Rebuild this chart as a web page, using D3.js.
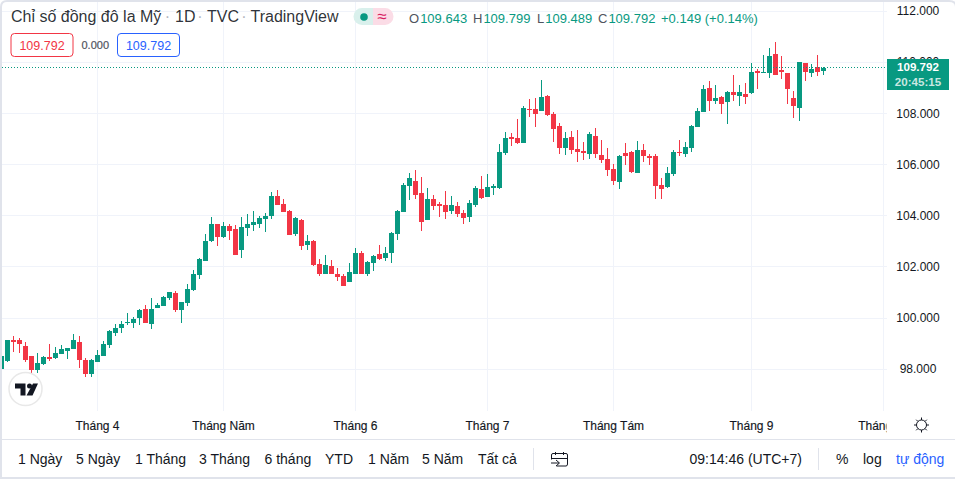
<!DOCTYPE html>
<html><head><meta charset="utf-8">
<script src="https://cdnjs.cloudflare.com/ajax/libs/d3/7.8.5/d3.min.js"></script>
<style>
html,body{margin:0;padding:0;background:#fff;overflow:hidden}
svg{display:block}
text{font-family:"Liberation Sans",Arial,sans-serif}
</style></head><body>
<svg id="c" width="955" height="479"></svg>
<script>
const opens=[98.01,98.33,99.15,99.15,98.91,98.52,97.97,98.21,98.48,98.44,98.60,98.72,98.79,99.07,98.37,97.82,98.29,98.52,98.95,99.42,99.61,99.81,99.81,100.01,100.36,99.77,100.40,100.47,100.79,100.98,100.32,100.59,
101.10,101.69,102.23,103.02,103.68,103.17,103.60,103.48,102.66,103.52,103.64,103.68,103.87,104.00,104.77,104.46,104.19,103.29,103.84,102.86,103.02,102.12,101.73,102.04,101.73,101.65,101.41,101.73,102.55,101.73,102.16,102.51,102.35,102.55,
103.29,104.15,105.17,105.36,104.89,103.84,104.66,104.46,104.42,104.19,104.38,104.11,103.95,104.42,105.05,104.74,105.09,105.09,106.46,107.08,107.04,106.85,108.18,108.18,108.10,108.68,107.98,107.51,106.65,107.08,106.61,106.53,106.42,107.12,106.38,106.22,105.83,105.32,
106.46,106.49,105.67,106.57,106.34,106.34,105.20,105.13,105.63,106.49,106.42,106.65,107.47,108.06,108.99,108.49,108.64,108.45,108.84,108.68,108.76,108.80,109.66,109.58,109.58,110.33,109.70,109.58,108.60,108.21,109.97,109.58,109.82,109.643];
const highs=[98.55,99.15,99.30,99.22,99.07,98.52,98.64,98.52,98.99,98.87,98.95,98.83,99.38,99.30,98.44,98.40,98.75,99.11,99.54,99.77,99.89,100.20,100.04,100.36,100.51,100.79,100.59,100.87,101.02,101.06,100.63,101.33,
101.88,102.35,103.29,103.95,103.68,103.76,103.68,103.64,103.95,104.07,104.19,104.00,104.11,104.93,105.01,104.66,104.23,103.95,103.87,103.25,103.06,102.31,102.47,102.27,101.96,101.73,102.16,102.74,102.62,102.23,102.47,102.86,102.78,103.37,
104.23,105.28,105.67,105.79,105.52,105.09,104.81,104.54,104.97,104.77,104.54,104.23,104.62,105.17,105.56,105.63,105.24,106.81,107.28,107.24,107.78,108.29,108.57,108.61,109.31,108.72,108.06,107.63,107.28,107.32,107.35,106.89,107.28,107.43,106.96,106.65,106.03,106.38,
106.85,106.53,106.92,106.81,106.42,106.42,105.48,105.91,106.57,106.96,106.89,107.55,108.21,109.11,109.27,109.11,108.68,108.88,109.50,109.11,109.19,109.97,109.74,110.29,110.56,110.79,110.25,109.58,108.88,110.01,109.97,109.93,110.29,109.799];
const lows=[97.99,98.29,98.68,98.64,98.29,97.82,97.86,98.17,98.33,98.40,98.60,98.40,98.79,98.05,97.70,97.70,98.29,98.52,98.83,99.30,99.42,99.73,99.61,99.73,99.81,99.58,100.40,100.47,100.71,100.24,99.81,100.47,
101.06,101.53,102.23,102.98,102.82,103.13,103.06,102.47,102.35,103.21,103.41,103.52,103.37,103.87,104.42,104.15,103.25,103.21,102.66,102.66,102.04,101.65,101.73,101.73,101.45,101.26,101.41,101.73,101.73,101.65,101.84,102.27,102.23,102.16,
103.05,104.15,104.62,104.66,103.41,103.84,104.23,103.95,103.88,104.07,103.95,103.68,103.76,104.34,104.66,104.74,104.81,105.05,106.38,106.73,106.81,106.85,107.86,107.47,108.10,107.90,106.89,106.42,106.38,106.42,106.10,106.18,106.22,106.26,106.06,105.56,105.20,105.05,
105.99,105.67,105.67,106.10,105.99,104.66,104.66,105.09,105.56,106.34,106.30,106.49,107.47,108.06,108.10,108.37,107.98,107.59,108.49,108.29,108.37,108.76,108.96,109.58,109.39,109.50,109.35,108.37,107.82,107.71,109.27,109.43,109.46,109.489];
const closes=[98.52,99.15,99.07,98.99,98.37,97.97,98.25,98.48,98.40,98.64,98.79,98.83,99.15,98.37,97.82,98.37,98.56,98.99,99.50,99.61,99.77,99.85,99.97,100.32,99.81,100.36,100.51,100.83,101.02,100.32,100.63,101.14,
101.73,102.31,103.02,103.68,103.17,103.60,103.41,102.47,103.56,103.68,103.76,103.91,104.00,104.77,104.42,104.15,103.25,103.91,102.82,103.02,102.08,101.73,102.08,101.73,101.61,101.26,101.80,102.55,101.73,102.19,102.43,102.31,102.55,103.33,
104.19,105.20,105.48,104.81,103.76,104.66,104.38,104.38,104.15,104.42,104.07,103.91,104.50,105.09,104.70,105.13,105.17,106.49,107.04,107.00,106.85,108.21,108.14,107.98,108.64,107.94,107.39,106.65,107.04,106.57,106.49,106.46,107.20,106.42,106.18,105.79,105.36,106.34,
106.34,105.71,106.57,106.34,106.26,105.16,105.05,105.67,106.49,106.45,106.69,107.51,108.10,108.96,108.49,108.60,108.37,108.84,108.72,108.84,108.64,109.62,109.58,109.62,110.25,109.50,109.62,108.96,108.29,110.01,109.62,109.74,109.62,109.792];
const yTicks=[98,100,102,104,106,108,110,112];
const monthIndex=[16,37,59,81,102,125,147];
const monthLabels=["Tháng 4","Tháng Năm","Tháng 6","Tháng 7","Tháng Tám","Tháng 9","Tháng 10"];
const rangeButtons=["1 Ngày","5 Ngày","1 Tháng","3 Tháng","6 tháng","YTD","1 Năm","5 Năm","Tất cả"];
const lastPrice=109.792;

const UP="#089981",DOWN="#F23645",GRID="#F0F3FA",TXT="#131722",FRAME="#E0E3EB";
const svg=d3.select("#c");
const x=d3.scaleLinear().domain([0,137]).range([1.5,823.5]);
const y=d3.scaleLinear().domain([98,112]).range([369.3,11.1]);
const W=955,H=479,plotR=887,plotB=411,axisB=439;

svg.append("rect").attr("width",W).attr("height",H).attr("fill","#fff");
const defs=svg.append("defs");
defs.append("clipPath").attr("id","plot").append("rect").attr("x",2).attr("y",1).attr("width",plotR-2).attr("height",plotB-1);

// grid
const grid=svg.append("g").attr("clip-path","url(#plot)").attr("shape-rendering","crispEdges").attr("stroke",GRID);
grid.selectAll(".h").data(yTicks).join("line").attr("x1",2).attr("x2",plotR)
  .attr("y1",d=>Math.floor(y(d))+.5).attr("y2",d=>Math.floor(y(d))+.5);
grid.selectAll(".v").data(monthIndex).join("line").attr("y1",1).attr("y2",plotB)
  .attr("x1",d=>x(d)).attr("x2",d=>x(d));

// candles
const idx=d3.range(opens.length);
const g=svg.append("g").attr("clip-path","url(#plot)").attr("shape-rendering","crispEdges");
const col=i=>closes[i]>=opens[i]?UP:DOWN;
g.selectAll(".w").data(idx).join("line").attr("x1",i=>x(i)).attr("x2",i=>x(i))
  .attr("y1",i=>y(highs[i])).attr("y2",i=>y(lows[i])).attr("stroke",col).attr("stroke-width",1);
g.selectAll(".b").data(idx).join("rect").attr("x",i=>x(i)-2.5).attr("width",5)
  .attr("y",i=>y(Math.max(opens[i],closes[i])))
  .attr("height",i=>Math.max(1,Math.abs(y(opens[i])-y(closes[i])))).attr("fill",col);

// last price line
svg.append("line").attr("x1",2).attr("x2",plotR).attr("y1",Math.floor(y(lastPrice))+.5).attr("y2",Math.floor(y(lastPrice))+.5)
  .attr("stroke",UP).attr("stroke-dasharray","1 2").attr("shape-rendering","crispEdges");

// y axis
const ya=svg.append("g").attr("transform",`translate(${plotR},0)`)
  .call(d3.axisRight(y).tickValues(yTicks).tickSize(0).tickPadding(0).tickFormat(d3.format(".3f")));
ya.select(".domain").remove();
ya.selectAll("text").attr("x",31).attr("text-anchor","middle").attr("dy","0.3em").attr("font-size",12).attr("fill",TXT)
  .attr("font-family",'"Liberation Sans",Arial,sans-serif');

// last price label
svg.append("rect").attr("x",887).attr("y",59).attr("width",62).attr("height",31).attr("fill",UP);
svg.append("text").attr("x",918).attr("y",71).attr("text-anchor","middle").attr("font-size",11.6).attr("font-weight",700).attr("fill","#fff").text(lastPrice.toFixed(3));
svg.append("text").attr("x",918).attr("y",85.5).attr("text-anchor","middle").attr("font-size",11.6).attr("font-weight",700).attr("fill","#fff").attr("fill-opacity",.78).text("20:45:15");

// x axis
defs.append("clipPath").attr("id","taxl").append("rect").attr("x",2).attr("y",0).attr("width",plotR-2).attr("height",28);
const xa=svg.append("g").attr("transform",`translate(-0.500,${plotB})`).attr("clip-path","url(#taxl)")
  .call(d3.axisBottom(x).tickValues(monthIndex).tickSize(0).tickPadding(0).tickFormat((d,i)=>monthLabels[i]));
xa.select(".domain").remove();
xa.selectAll("text").attr("y",18.5).attr("dy",0).attr("font-size",12).attr("fill",TXT).attr("stroke",TXT).attr("stroke-width",.15)
  .attr("font-family",'"Liberation Sans",Arial,sans-serif');

// separators, frame
const sep=svg.append("g").attr("shape-rendering","crispEdges").attr("stroke",FRAME);
sep.append("line").attr("x1",2).attr("x2",W).attr("y1",439.5).attr("y2",439.5);
sep.append("line").attr("x1",533.5).attr("x2",533.5).attr("y1",448).attr("y2",470);
sep.append("line").attr("x1",818.5).attr("x2",818.5).attr("y1",448).attr("y2",470);
svg.append("path").attr("fill","none").attr("stroke",FRAME).attr("stroke-width",2)
  .attr("d",`M1,${H+2} V7 Q1,1 7,1 H${W-6} Q${W+1},1 ${W+1},7`);
svg.append("path").attr("fill","none").attr("stroke",FRAME).attr("stroke-width",2)
  .attr("d",`M0,478 H${W}`);

// header title, with faint dots between its parts
[["Chỉ số đồng đô la Mỹ",11],["1D",175],["TVC",207],["TradingView",250.5]].forEach(([t,px])=>
  svg.append("text").attr("x",px).attr("y",22).attr("font-size",16).attr("fill",TXT).attr("fill-opacity",.9).text(t));
[167.5,200,244].forEach(px=>svg.append("text").attr("x",px).attr("y",22).attr("text-anchor","middle").attr("font-size",16).attr("fill","#B2B5BE").text("·"));
// pill
svg.append("path").attr("d","M373,8 H362 a8.500,8.500 0 0 0 0,17 H373 Z").attr("fill","#D9F0EC");
svg.append("path").attr("d","M373,8 H385 a8.500,8.500 0 0 1 0,17 H373 Z").attr("fill","#FBDCE6");
svg.append("circle").attr("cx",364).attr("cy",17).attr("r",3.8).attr("fill",UP);
svg.append("text").attr("x",382).attr("y",22).attr("text-anchor","middle").attr("font-size",17).attr("fill","#D81B60").text("≈");
// OHLC
const ohlc=[["O","109.643",409],["H","109.799",473],["L","109.489",537],["C","109.792",598]];
ohlc.forEach(([k,v,px])=>{
  const t=svg.append("text").attr("x",px).attr("y",22.5).attr("font-size",13);
  t.append("tspan").attr("fill","#50535E").text(k);
  t.append("tspan").attr("fill",UP).attr("dx",1).text(v);
});
svg.append("text").attr("x",661).attr("y",22.5).attr("font-size",13).attr("fill",UP).text("+0.149 (+0.14%)");
// boxes
[[11,DOWN,"109.792"],[117.500,"#2962FF","109.792"]].forEach(([bx,c,t])=>{
  svg.append("rect").attr("x",bx).attr("y",33.5).attr("width",62).attr("height",23).attr("rx",3.5).attr("fill","#fff").attr("stroke",c);
  svg.append("text").attr("x",bx+31).attr("y",49.5).attr("text-anchor","middle").attr("font-size",12.5).attr("fill",c).text(t);
});
svg.append("text").attr("x",81.5).attr("y",49).attr("font-size",11).attr("fill","#50535E").attr("stroke","#50535E").attr("stroke-width",.2).text("0.000");

// logo badge
svg.append("circle").attr("cx",25.5).attr("cy",389).attr("r",16.5).attr("fill","#fff").attr("stroke","#E8E8E8").attr("stroke-width",1.500);
svg.append("path").attr("fill",TXT).attr("d","M15,383.500 H25.500 V395.500 H20.500 V388.500 H15 Z M33,383.500 H38 L32.500,395.500 H26.500 Z");
svg.append("circle").attr("cx",29.500).attr("cy",386).attr("r",2.500).attr("fill",TXT);

// range buttons
const btnX=[18,76,135,199,264.500,325,368,422,478];
rangeButtons.forEach((t,i)=>svg.append("text").attr("x",btnX[i]).attr("y",464).attr("font-size",14).attr("fill",TXT).text(t));
svg.append("text").attr("x",689.500).attr("y",464).attr("font-size",14).attr("fill",TXT).text("09:14:46 (UTC+7)");
svg.append("text").attr("x",836).attr("y",464).attr("font-size",14).attr("fill",TXT).text("%");
svg.append("text").attr("x",863).attr("y",464).attr("font-size",14).attr("fill",TXT).text("log");
svg.append("text").attr("x",896).attr("y",464).attr("font-size",14).attr("fill","#2962FF").text("tự động");

// calendar icon
svg.append("path").attr("fill","none").attr("stroke",TXT).attr("stroke-width",1)
  .attr("d","M551.500,459.500 V455 Q551.500,453.500 553,453.500 H566 Q567.500,453.500 567.500,455 V464 Q567.500,466 566,466 H556.500 M551.500,458.500 H567.500 M555.500,452 V455 M563.500,452 V455 M551,463 H559 M556,460 L559.500,463 L556,466");
// gear icon
const gear=svg.append("g").attr("transform","translate(921.500,425)").attr("fill","none").attr("stroke",TXT).attr("stroke-width",1);
gear.append("circle").attr("r",5);
d3.range(8).forEach(i=>{const a=i*Math.PI/4;
  gear.append("line").attr("x1",5*Math.cos(a)).attr("y1",5*Math.sin(a)).attr("x2",7.5*Math.cos(a)).attr("y2",7.5*Math.sin(a));});
</script>
</body></html>
